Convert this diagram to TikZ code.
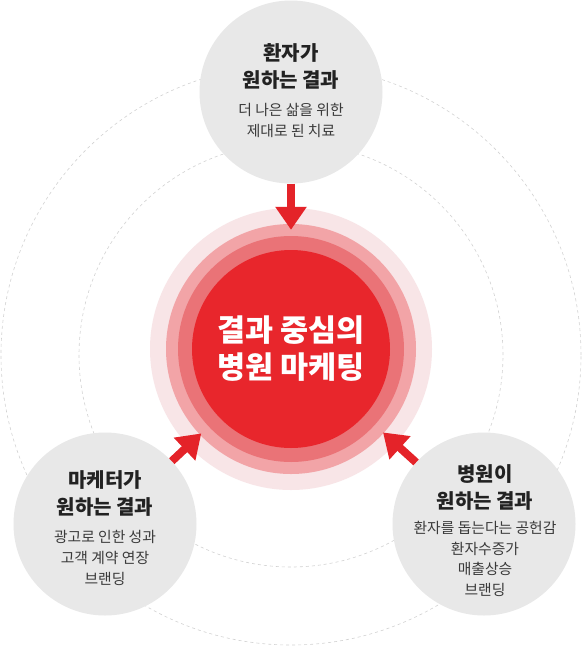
\documentclass[tikz,border=0pt]{standalone}
\usepackage{fontspec}
\setmainfont{Noto Sans CJK KR}
\usetikzlibrary{arrows.meta}
\definecolor{greyc}{HTML}{E8E8E8}
\definecolor{faint}{HTML}{F8E5E7}
\definecolor{pinkring}{HTML}{F2A4A7}
\definecolor{rosering}{HTML}{EA7377}
\definecolor{corered}{HTML}{E8262C}
\definecolor{arrowred}{HTML}{E42329}
\definecolor{dashgrey}{HTML}{D2D2D2}
\definecolor{titlec}{HTML}{222222}
\definecolor{subc}{HTML}{3A3A3A}
\begin{document}
\begin{tikzpicture}[x=1pt,y=-1pt,
  disc/.style={circle,inner sep=0pt,minimum size=#1},
  bubble/.style={circle,fill=greyc,inner sep=0pt,minimum size=183pt},
  ttl/.style={align=center,text=titlec,font=\fontsize{20}{27}\selectfont\bfseries,inner sep=0pt},
  desc/.style={align=center,text=subc,font=\fontsize{14.8}{21}\selectfont,inner sep=0pt},
  orbit/.style={draw=dashgrey,line width=0.6pt,dash pattern=on 3pt off 3pt},
  push/.style={draw=arrowred,line width=8pt,-{Triangle[length=23pt,width=30pt]}}
]
\useasboundingbox (0,0) rectangle (584,648);
\fill[white] (0,0) rectangle (584,648);
\draw[orbit] (291,355) circle[radius=212pt];
\draw[orbit] (291,355) circle[radius=290pt];
\node[disc=282pt,fill=faint] (halo) at (291,349) {};
\node[disc=250pt,fill=pinkring] (ring) at (291,349) {};
\node[disc=226pt,fill=rosering] (band) at (291,349) {};
\node[disc=198pt,fill=corered,text=white,align=center,font=\fontsize{30.5}{37}\selectfont\bfseries] (core) at (291,349) {결과 중심의\\병원 마케팅};
\node[bubble] (pat) at (291,92) {};
\node[bubble] (mkt) at (105,524) {};
\node[bubble] (hos) at (484,524) {};
\node[ttl] (patT) at (291,66.5) {환자가\\원하는 결과};
\node[desc] (patD) at (291,120.5) {더 나은 삶을 위한\\제대로 된 치료};
\node[ttl] (mktT) at (105,493) {마케터가\\원하는 결과};
\node[desc] (mktD) at (105,558) {광고로 인한 성과\\고객 계약 연장\\브랜딩};
\node[ttl] (hosT) at (485,487) {병원이\\원하는 결과};
\node[desc,font=\fontsize{14.8}{20.7}\selectfont] (hosD) at (485,559) {환자를 돕는다는 공헌감\\환자수증가\\매출상승\\브랜딩};
\draw[push,shorten >=20pt] (pat) -- (core);
\draw[push,shorten >=24pt] (mkt) -- (core);
\draw[push,shorten >=25pt] (hos) -- (core);
\end{tikzpicture}
\end{document}
